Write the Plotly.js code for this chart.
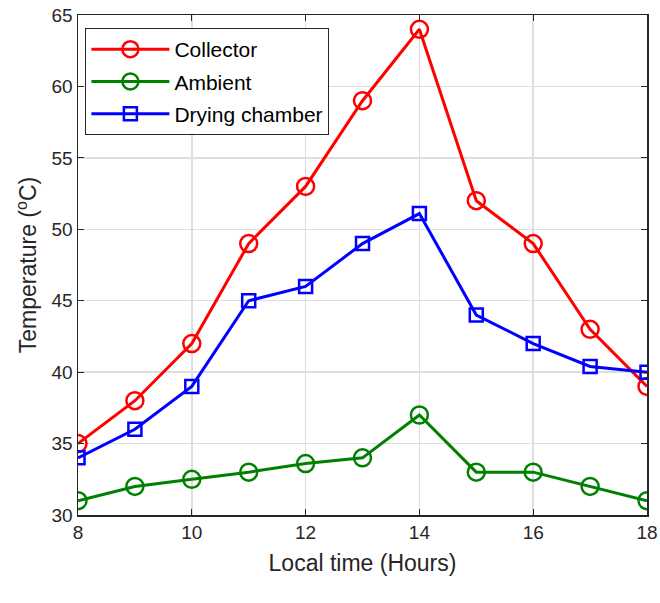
<!DOCTYPE html>
<html><head><meta charset="utf-8">
<script src="https://cdn.plot.ly/plotly-3.0.1.min.js"></script>
<style>html,body{margin:0;padding:0;background:#fff}#chart{width:660px;height:603px}</style>
</head><body><div id="chart"></div>
<script>
const hours = [8, 9, 10, 11, 12, 13, 14, 15, 16, 17, 18];
const collector = [35, 38, 42, 49, 53, 59, 64, 52, 49, 43, 39];
const ambient = [31, 32, 32.5, 33, 33.6, 34, 37, 33, 33, 32, 31];
const dryingChamber = [34, 36, 39, 45, 46, 49, 51.1, 44, 42, 40.4, 40];
const seriesNames = ['Collector', 'Ambient', 'Drying chamber'];

function tr(y, name, color, symbol, size) {
  return {x: hours, y: y, name: name, legendgroup: name, type: 'scatter', mode: 'lines+markers',
    line: {color: color, width: 3},
    marker: {symbol: symbol, size: size, color: color, line: {color: color, width: 2.5}}};
}
const data = [
  tr(collector, seriesNames[0], '#ff0000', 'circle-open', 17),
  tr(ambient, seriesNames[1], '#008000', 'circle-open', 17),
  tr(dryingChamber, seriesNames[2], '#0000ff', 'square-open', 13)
];
const axisCommon = {showline: true, linecolor: '#262626', linewidth: 1.5, mirror: 'ticks',
  ticks: 'inside', ticklen: 6, tickcolor: '#262626', showgrid: true, gridcolor: '#dedede', gridwidth: 1.5,
  zeroline: false, tickfont: {size: 19, color: '#262626'}};
const layout = {
  width: 660, height: 603, margin: {l: 78, r: 13, t: 15, b: 88},
  paper_bgcolor: '#fff', plot_bgcolor: '#fff',
  font: {family: 'Liberation Sans, Arial, sans-serif', color: '#262626'},
  xaxis: Object.assign({}, axisCommon, {range: [8, 18], dtick: 2, tick0: 8,
    title: {text: 'Local time (Hours)', font: {size: 23, color: '#262626'}, standoff: 12}}),
  yaxis: Object.assign({}, axisCommon, {range: [30, 65], dtick: 5,
    title: {text: 'Temperature (<sup>o</sup>C)', font: {size: 23, color: '#262626'}, standoff: 8}}),
  legend: {x: 0.013, y: 0.974, xanchor: 'left', yanchor: 'top', bgcolor: '#fff',
    bordercolor: '#262626', borderwidth: 1, font: {size: 21, color: '#000'},
    traceorder: 'grouped', tracegroupgap: 2, itemwidth: 78},
  showlegend: true
};
Plotly.newPlot('chart', data, layout, {displayModeBar: false, staticPlot: true});
</script></body></html>
